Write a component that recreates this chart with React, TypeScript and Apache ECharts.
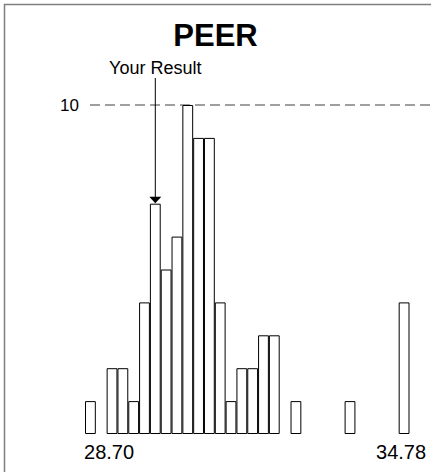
import React, { useEffect, useRef } from "react";
import * as echarts from "echarts";

const chartTitle = "PEER";
const binCounts = [1, 0, 2, 2, 1, 4, 7, 5, 6, 10, 9, 9, 4, 1, 2, 2, 3, 3, 0, 1, 0, 0, 0, 0, 1, 0, 0, 0, 0, 4];
const xTickLabels = [
  "", "", "28.70", "", "", "", "", "", "", "",
  "", "", "", "", "", "", "", "", "", "",
  "", "", "", "", "", "", "", "", "", "34.78",
];
const yMax = 10;
const referenceValue = 10;
const yourResultBin = 6;
const yourResultLabel = "Your Result";

const FONT = "'Liberation Sans', Arial, Helvetica, sans-serif";

export default function App() {
  const ref = useRef<HTMLDivElement>(null);
  useEffect(() => {
    if (!ref.current) return;
    const chart = echarts.init(ref.current, undefined, { renderer: "svg" });
    const categories = binCounts.map((_, i) => String(i));
    chart.setOption({
      animation: false,
      backgroundColor: "#ffffff",
      title: {
        text: chartTitle,
        left: "center",
        top: 15,
        textStyle: { fontFamily: FONT, fontSize: 31, fontWeight: "bold", color: "#000" },
      },
      grid: { left: 85, width: 324.5, top: 105, bottom: 38 },
      xAxis: {
        type: "category",
        data: categories,
        boundaryGap: true,
        axisLine: { show: false },
        axisTick: { show: false },
        axisLabel: {
          interval: 0,
          margin: 8,
          fontFamily: FONT,
          fontSize: 20,
          color: "#000",
          padding: [0, 6, 0, 0],
          formatter: (_v: string, idx: number) => xTickLabels[idx] || "",
        },
      },
      yAxis: {
        type: "value",
        min: 0,
        max: yMax,
        interval: 10,
        axisLine: { show: false },
        axisTick: { show: false },
        splitLine: { show: false },
        axisLabel: {
          margin: 6,
          fontFamily: FONT,
          fontSize: 17,
          color: "#000",
          formatter: (v: number) => (v === referenceValue ? String(v) : ""),
        },
      },
      series: [
        {
          type: "bar",
          data: binCounts.map((c) => (c === 0 ? "-" : c)),
          barCategoryGap: "0%",
          itemStyle: { color: "#ffffff", borderColor: "#000000", borderWidth: 1 },
        },
      ],
    });

    const c0 = chart.convertToPixel({ xAxisIndex: 0 }, 0) as number;
    const c1 = chart.convertToPixel({ xAxisIndex: 0 }, 1) as number;
    const band = c1 - c0;
    const gridLeft = c0 - band / 2;
    const refY = chart.convertToPixel({ yAxisIndex: 0 }, referenceValue) as number;
    const ax = chart.convertToPixel({ xAxisIndex: 0 }, yourResultBin) as number;
    const barTop = chart.convertToPixel({ yAxisIndex: 0 }, binCounts[yourResultBin]) as number;

    chart.setOption({
      graphic: [
        {
          type: "rect",
          shape: { x: 4.5, y: 4.5, width: 480, height: 520 },
          style: { fill: "none", stroke: "#7f7f7f", lineWidth: 1.5 },
          silent: true,
        },
        {
          type: "line",
          shape: { x1: gridLeft + 5, y1: refY, x2: 440, y2: refY },
          style: { stroke: "#808080", lineWidth: 1.3, lineDash: [10, 5] },
          silent: true,
          z: 1,
        },
        {
          type: "line",
          shape: { x1: ax, y1: refY - 27, x2: ax, y2: barTop - 6 },
          style: { stroke: "#000", lineWidth: 1 },
          silent: true,
          z: 10,
        },
        {
          type: "polygon",
          shape: { points: [[ax - 6, barTop - 7], [ax + 6, barTop - 7], [ax, barTop - 0.5]] },
          style: { fill: "#000" },
          silent: true,
          z: 10,
        },
        {
          type: "text",
          x: ax,
          y: refY - 28,
          style: {
            text: yourResultLabel,
            font: `18px ${FONT}`,
            fill: "#000",
            align: "center",
            verticalAlign: "bottom",
          },
          silent: true,
          z: 10,
        },
      ],
    });

    return () => chart.dispose();
  }, []);
  return (
    <div
      ref={ref}
      style={{ position: "fixed", left: 0, top: 0, width: 431, height: 472 }}
    />
  );
}
